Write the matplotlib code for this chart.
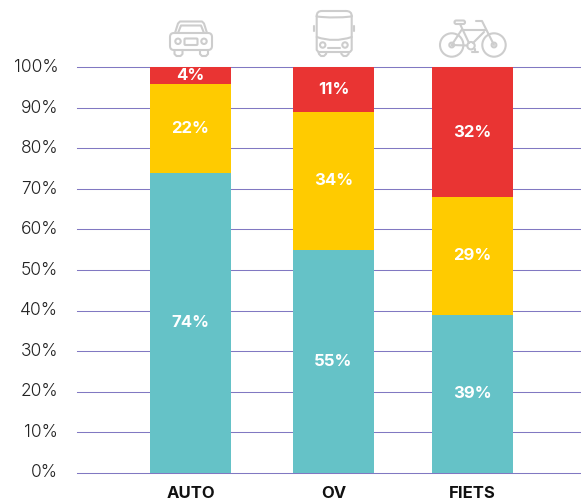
import matplotlib
matplotlib.use("Agg")
import matplotlib.pyplot as plt
from matplotlib.patches import Circle, FancyBboxPatch, PathPatch
from matplotlib.path import Path
from matplotlib.transforms import Affine2D, ScaledTranslation

categories = ["AUTO", "OV", "FIETS"]
teal_values = [74, 55, 39]
yellow_values = [22, 34, 29]
red_values = [4, 11, 32]
y_ticks = [0, 10, 20, 30, 40, 50, 60, 70, 80, 90, 100]

W, H = 581, 498
x_centers = [190.5, 333.5, 472.5]
bar_width = 81
colors = ["#65c2c7", "#ffcb00", "#e93433"]
FONT = ["Inter", "DejaVu Sans"]

fig = plt.figure(figsize=(W / 100, H / 100), dpi=100, facecolor="white")
ax = fig.add_axes([77 / W, (H - 472.5) / H, (W - 77) / W, 405 / H])
ax.set_xlim(77, W)
ax.set_ylim(0, 100)
for s in ax.spines.values():
    s.set_visible(False)
ax.set_axisbelow(True)
ax.set_yticks(y_ticks)
ax.set_yticklabels([f"{v}%" for v in y_ticks], family=FONT, fontsize=12.5, weight=300, color="#222222")
ax.tick_params(axis="y", length=0, pad=13.5)
up = ScaledTranslation(0, 1.2 / 72, fig.dpi_scale_trans)
for t in ax.get_yticklabels():
    t.set_transform(t.get_transform() + up)
ax.yaxis.grid(True, color="#8178c2", lw=0.75, clip_on=False)
for gl in ax.get_ygridlines():
    gl.set_clip_on(False)
ax.set_xticks(x_centers)
ax.set_xticklabels(categories, family=FONT, fontsize=12, weight="bold", color="#111111")
ax.tick_params(axis="x", length=0, pad=10)
ax.grid(False, axis="x")

bottom = [0, 0, 0]
for vals, c in zip([teal_values, yellow_values, red_values], colors):
    ax.bar(x_centers, vals, bar_width, bottom=bottom, color=c, zorder=2)
    for x, b, v in zip(x_centers, bottom, vals):
        ax.text(x, b + v / 2, f"{v}%", ha="center", va="center", color="white",
                family=FONT, fontsize=12, weight="bold", zorder=3)
    bottom = [b + v for b, v in zip(bottom, vals)]

# Decorative outline icons, drawn in pixel coordinates of the figure
px = Affine2D().scale(1 / W, -1 / H).translate(0, 1) + fig.transFigure
IC = "#cdcdcd"
LW = 1.5
style = dict(transform=px, fill=False, ec=IC, lw=LW, clip_on=False)

def line(*pts):
    fig.add_artist(PathPatch(Path(pts), capstyle="round", joinstyle="round", **style))

def curve(p0, c, p1):
    fig.add_artist(PathPatch(Path([p0, c, p1], [Path.MOVETO, Path.CURVE3, Path.CURVE3]), capstyle="round", **style))

def circ(x, y, r):
    fig.add_artist(Circle((x, y), r, **style))

def rrect(x0, y0, x1, y1, r):
    fig.add_artist(FancyBboxPatch((x0 + r, y0 + r), x1 - x0 - 2 * r, y1 - y0 - 2 * r,
                                  boxstyle=f"round,pad={r},rounding_size={r}", **style))

# car
rrect(170, 33, 212, 50, 4)
line((175, 33), (178, 23.5), (180, 21.5), (202, 21.5), (204, 23.5), (207, 33))
line((178, 33), (181, 25.5), (201, 25.5), (204, 33))
circ(178, 41.3, 2.7); circ(204, 41.3, 2.7)
rrect(184.5, 38.5, 197.5, 45, 1)
line((174.5, 50), (174.5, 54), (176.5, 56), (180.5, 56), (182.5, 54), (182.5, 50))
line((200, 50), (200, 54), (202, 56), (206, 56), (208, 54), (208, 50))

# bus
curve((316.7, 16), (316.7, 11), (322, 11))
line((322, 11), (346, 11))
curve((346, 11), (351.7, 11), (351.7, 16))
line((316.7, 16), (316.7, 50), (318.5, 52), (350, 52), (351.7, 50), (351.7, 16))
curve((316.7, 16.5), (334, 18.5), (351.7, 16.5))
curve((316.7, 37), (334, 43), (351.7, 37))
line((313.5, 26), (313.5, 31)); line((354, 26), (354, 31))
circ(322.7, 45, 2.7); circ(345, 45, 2.7)
line((327.5, 47.7), (340, 47.7))
line((318.5, 52), (319, 54), (321, 56), (324, 56), (326, 54), (326.5, 52))
line((341, 52), (341.5, 54), (343.5, 56), (346.5, 56), (348.5, 54), (349, 52))

# bicycle
circ(451.7, 45, 11.7); circ(494, 45, 11.7)
circ(451.7, 45, 2.4); circ(494, 45, 2.4)
circ(471, 45.7, 3.7)
line((460, 24), (469, 43))
line((451.7, 45), (461.5, 30), (486, 30))
line((451.7, 45), (467.3, 45.5))
line((473, 43), (484, 32))
line((494, 45), (482, 21), (476, 21))
rrect(454.5, 20.5, 465, 24, 1.7)
line((475, 49), (475, 52.5)); line((472, 52.5), (478, 52.5))

fig.savefig("out.png", dpi=100)
